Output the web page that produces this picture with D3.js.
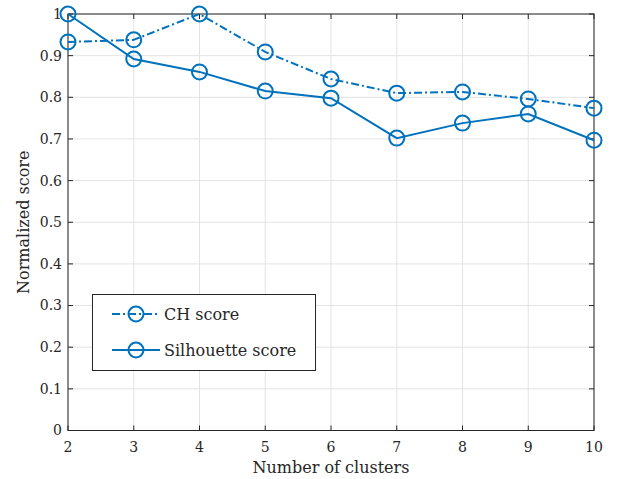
<!DOCTYPE html>
<html>
<head>
<meta charset="utf-8">
<script src="https://cdn.jsdelivr.net/npm/d3@7"></script>
<style>
  html, body { margin: 0; padding: 0; background: #fff; }
  svg { display: block; }
</style>
</head>
<body>
<div id="chart"></div>
<script>
const BLUE = '#0072bd';
const AXIS = '#262626';
const GRID = '#e3e3e3';
const FONT = '"DejaVu Serif", serif';

const clusters = [2, 3, 4, 5, 6, 7, 8, 9, 10];
const chScore = [0.933, 0.938, 1.0, 0.909, 0.844, 0.810, 0.813, 0.796, 0.774];
const silScore = [1.0, 0.892, 0.861, 0.815, 0.798, 0.702, 0.738, 0.760, 0.697];
const yTicks = [0, 0.1, 0.2, 0.3, 0.4, 0.5, 0.6, 0.7, 0.8, 0.9, 1];

const W = 619, H = 479;
const pL = 68, pR = 594, pT = 14, pB = 430.5;

const svg = d3.select('#chart').append('svg')
  .attr('width', W).attr('height', H);

const x = d3.scaleLinear().domain([2, 10]).range([pL, pR]);
const y = d3.scaleLinear().domain([0, 1]).range([pB, pT]);

// grid
svg.append('g').selectAll('line').data(clusters).join('line')
  .attr('x1', d => x(d)).attr('x2', d => x(d))
  .attr('y1', pT).attr('y2', pB)
  .attr('stroke', GRID).attr('stroke-width', 1);
svg.append('g').selectAll('line').data(yTicks).join('line')
  .attr('x1', pL).attr('x2', pR)
  .attr('y1', d => y(d)).attr('y2', d => y(d))
  .attr('stroke', GRID).attr('stroke-width', 1);

// box
svg.append('rect')
  .attr('x', pL).attr('y', pT)
  .attr('width', pR - pL).attr('height', pB - pT)
  .attr('fill', 'none').attr('stroke', AXIS).attr('stroke-width', 1);

// ticks (inward, all four sides)
const tl = 5;
const tk = svg.append('g').attr('stroke', AXIS).attr('stroke-width', 1);
clusters.forEach(d => {
  tk.append('line').attr('x1', x(d)).attr('x2', x(d)).attr('y1', pB).attr('y2', pB - tl);
  tk.append('line').attr('x1', x(d)).attr('x2', x(d)).attr('y1', pT).attr('y2', pT + tl);
});
yTicks.forEach(d => {
  tk.append('line').attr('x1', pL).attr('x2', pL + tl).attr('y1', y(d)).attr('y2', y(d));
  tk.append('line').attr('x1', pR).attr('x2', pR - tl).attr('y1', y(d)).attr('y2', y(d));
});

// tick labels
svg.append('g').selectAll('text').data(clusters).join('text')
  .attr('x', d => x(d)).attr('y', pB + 21)
  .attr('text-anchor', 'middle')
  .attr('font-family', FONT).attr('font-size', 14).attr('fill', AXIS)
  .text(d => d);
svg.append('g').selectAll('text').data(yTicks).join('text')
  .attr('x', pL - 6).attr('y', d => y(d)).attr('dy', '0.35em')
  .attr('text-anchor', 'end')
  .attr('font-family', FONT).attr('font-size', 14).attr('fill', AXIS)
  .text(d => d);

// axis titles
svg.append('text')
  .attr('x', (pL + pR) / 2).attr('y', 473)
  .attr('text-anchor', 'middle')
  .attr('font-family', FONT).attr('font-size', 16).attr('fill', AXIS)
  .text('Number of clusters');
svg.append('text')
  .attr('transform', `translate(29,${(pT + pB) / 2}) rotate(-90)`)
  .attr('text-anchor', 'middle')
  .attr('font-family', FONT).attr('font-size', 16).attr('fill', AXIS)
  .text('Normalized score');

// series
const series = [
  { name: 'CH score', values: chScore, dash: '8,3,2,3' },
  { name: 'Silhouette score', values: silScore, dash: null }
];
const line = d3.line().x((d, i) => x(clusters[i])).y(d => y(d));

series.forEach(s => {
  svg.append('path')
    .attr('d', line(s.values))
    .attr('fill', 'none').attr('stroke', BLUE).attr('stroke-width', 2)
    .attr('stroke-dasharray', s.dash);
  svg.append('g').selectAll('circle').data(s.values).join('circle')
    .attr('cx', (d, i) => x(clusters[i])).attr('cy', d => y(d))
    .attr('r', 7.5)
    .attr('fill', 'none').attr('stroke', BLUE).attr('stroke-width', 2);
});

// legend
const lg = svg.append('g');
lg.append('rect')
  .attr('x', 92.5).attr('y', 294.5).attr('width', 223).attr('height', 76)
  .attr('fill', '#fff').attr('stroke', AXIS).attr('stroke-width', 1);
series.forEach((s, i) => {
  const ly = 314 + i * 36;
  lg.append('line')
    .attr('x1', 112).attr('x2', 160).attr('y1', ly).attr('y2', ly)
    .attr('stroke', BLUE).attr('stroke-width', 2)
    .attr('stroke-dasharray', s.dash);
  lg.append('circle')
    .attr('cx', 136).attr('cy', ly).attr('r', 7.5)
    .attr('fill', 'none').attr('stroke', BLUE).attr('stroke-width', 2);
  lg.append('text')
    .attr('x', 164).attr('y', ly).attr('dy', '0.35em')
    .attr('font-family', FONT).attr('font-size', 16).attr('fill', AXIS)
    .text(s.name);
});
</script>
</body>
</html>
